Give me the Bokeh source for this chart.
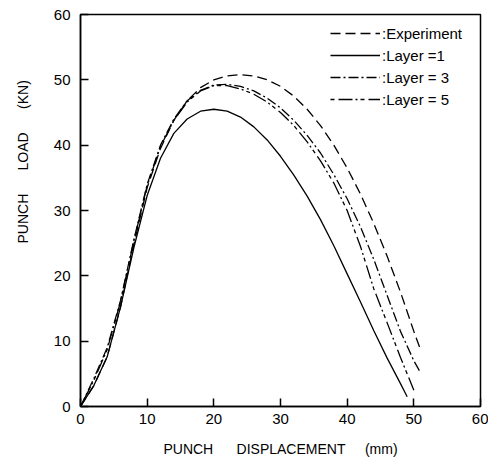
from bokeh.plotting import figure
from bokeh.models import Range1d, FixedTicker, Legend, LegendItem
from bokeh.embed import file_html
from bokeh.resources import INLINE

FONT = "Liberation Sans"

# Data
exp_x = [0, 2, 4, 6, 8, 10, 12, 14, 16, 18, 20, 22, 24, 26, 28, 30, 32, 34, 36, 38, 40, 42, 44, 46, 48, 50, 51]
exp_y = [0, 3.2, 7.6, 15.2, 24.8, 33.5, 39.5, 43.8, 46.8, 48.8, 50.0, 50.6, 50.8, 50.6, 50.0, 49.0, 47.5, 45.5, 43.0, 40.0, 36.5, 32.5, 28.0, 23.0, 17.5, 11.5, 8.7]

l1_x = [0, 2, 4, 6, 8, 10, 12, 14, 16, 18, 20, 22, 24, 26, 28, 30, 32, 34, 36, 38, 40, 42, 44, 46, 48, 49]
l1_y = [0, 3.2, 7.6, 15.2, 24.3, 32.3, 38.0, 41.8, 44.0, 45.2, 45.5, 45.2, 44.3, 42.8, 40.8, 38.3, 35.4, 32.2, 28.6, 24.6, 20.3, 16.0, 11.6, 7.4, 3.5, 1.5]

l3_x = [0, 2, 4, 6, 8, 10, 12, 14, 16, 18, 20, 22, 24, 26, 28, 30, 32, 34, 36, 38, 40, 42, 44, 46, 48, 50, 51]
l3_y = [0, 4.3, 9.0, 16.2, 25.5, 34.0, 40.0, 44.0, 46.8, 48.4, 49.2, 49.3, 49.0, 48.3, 47.2, 45.7, 43.8, 41.5, 38.8, 35.5, 31.8, 27.5, 22.5, 17.0, 11.5, 7.0, 5.2]

l5_x = [0, 2, 4, 6, 8, 10, 12, 14, 16, 18, 20, 22, 24, 26, 28, 30, 32, 34, 36, 38, 40, 42, 44, 46, 48, 50]
l5_y = [0, 4.0, 8.7, 16.0, 25.3, 33.8, 39.8, 43.8, 46.6, 48.3, 49.1, 49.1, 48.6, 47.8, 46.6, 45.0, 43.0, 40.5, 37.6, 34.2, 30.0, 24.5, 18.0, 12.8, 7.5, 2.5]

ticks = [0, 10, 20, 30, 40, 50, 60]

p = figure(width=488, height=459, output_backend="svg", toolbar_location=None,
           x_range=Range1d(0, 60), y_range=Range1d(0, 60),
           min_border_left=80, min_border_top=14, min_border_right=8, min_border_bottom=51)

p.xgrid.visible = False
p.ygrid.visible = False
p.outline_line_color = "black"
p.outline_line_width = 1.5
p.background_fill_color = "white"
p.border_fill_color = "white"

for ax in (p.xaxis[0], p.yaxis[0]):
    ax.ticker = FixedTicker(ticks=ticks)
    ax.axis_line_color = "black"
    ax.axis_line_width = 1.5
    ax.major_tick_line_color = "black"
    ax.major_tick_line_width = 1.5
    ax.major_tick_in = 8
    ax.major_tick_out = 0
    ax.minor_tick_line_color = None
    ax.major_label_text_font = FONT
    ax.major_label_text_font_size = "15px"
    ax.major_label_text_color = "black"
    ax.axis_label_text_font = FONT
    ax.axis_label_text_font_size = "14px"
    ax.axis_label_text_font_style = "normal"
    ax.axis_label_text_color = "black"

p.yaxis.major_label_standoff = 10
p.xaxis.major_label_standoff = 7

NB = "\u00a0"
p.xaxis.axis_label = "PUNCH" + NB * 5 + " DISPLACEMENT" + NB * 4 + " (mm)"
p.xaxis.axis_label_standoff = 14

p.yaxis.axis_label = NB * 25 + "PUNCH" + NB * 5 + " LOAD" + NB * 5 + " (KN)"
p.yaxis.axis_label_standoff = 20

r_exp = p.line(exp_x, exp_y, line_color="black", line_width=1.3, line_dash="10 5")
r_l1 = p.line(l1_x, l1_y, line_color="black", line_width=1.3)
r_l3 = p.line(l3_x, l3_y, line_color="black", line_width=1.3, line_dash="10 3 2 3")
r_l5 = p.line(l5_x, l5_y, line_color="black", line_width=1.3, line_dash="4 4 14 3 2 3")

legend = Legend(items=[
    LegendItem(label=":Experiment", renderers=[r_exp]),
    LegendItem(label=":Layer =1", renderers=[r_l1]),
    LegendItem(label=":Layer = 3", renderers=[r_l3]),
    LegendItem(label=":Layer = 5", renderers=[r_l5]),
], location=(250, 297), margin=0, padding=0, spacing=2,
    glyph_width=50, glyph_height=20, label_height=20, label_standoff=2,
    border_line_color=None, background_fill_alpha=0,
    label_text_font=FONT, label_text_font_size="15px", label_text_color="black")
p.add_layout(legend)

open("out.html", "w").write(file_html(p, INLINE))
